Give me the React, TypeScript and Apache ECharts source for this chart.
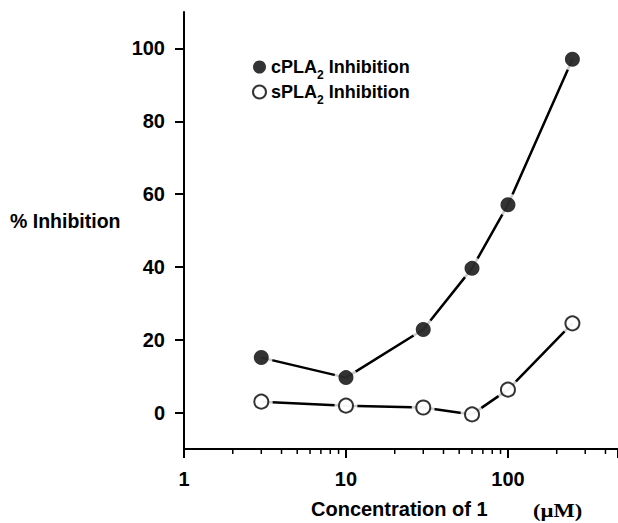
import React, { useEffect, useRef } from "react";
import * as echarts from "echarts";

const concentrations = [3, 10, 30, 60, 100, 250];
const cPLA2Values = [15.1, 9.6, 22.8, 39.6, 57.1, 97.0];
const sPLA2Values = [3.0, 1.9, 1.4, -0.5, 6.3, 24.5];
const xMajorTicks = [1, 10, 100];
const xMinorTicks = [2, 3, 4, 5, 6, 7, 8, 9, 20, 30, 40, 50, 60, 70, 80, 90, 200, 300, 400];
const yTicks = [0, 20, 40, 60, 80, 100];
const seriesNames = ["cPLA2", "sPLA2"];
const X_MIN = 1;
const X_MAX = 478;
const Y_MIN = -10;
const Y_MAX = 110;

const FONT = "'Liberation Sans', Arial, Helvetica, sans-serif";
const SERIF = "'Liberation Serif', 'Times New Roman', serif";

export default function App() {
  const ref = useRef<HTMLDivElement>(null);
  useEffect(() => {
    if (!ref.current) return;
    const chart = echarts.init(ref.current, undefined, { renderer: "svg" });
    const pts = (vals: number[]) => concentrations.map((c, i) => [c, vals[i]]);
    const lineSeries = (data: number[][]) => ({
      type: "line",
      data,
      showSymbol: false,
      symbol: "none",
      lineStyle: { color: "#000", width: 2.5 },
      z: 2,
      silent: true,
    });
    const haloSeries = (data: number[][]) => ({
      type: "scatter",
      data,
      symbol: "circle",
      symbolSize: 23,
      itemStyle: { color: "#fff" },
      z: 3,
      silent: true,
    });
    chart.setOption({
      animation: false,
      backgroundColor: "#fff",
      grid: { left: 184, top: 12, right: 0, bottom: 74, containLabel: false, outerBoundsMode: "none" },
      xAxis: {
        type: "log",
        logBase: 10,
        min: X_MIN,
        max: X_MAX,
        position: "bottom",
        axisLine: { show: true, onZero: false, lineStyle: { color: "#000", width: 2 } },
        axisTick: { show: true, length: 9, lineStyle: { color: "#000", width: 2 } },
        axisLabel: {
          customValues: xMajorTicks,
          color: "#000",
          fontFamily: FONT,
          fontWeight: "bold",
          fontSize: 20,
          margin: 20,
        },
        splitLine: { show: false },
      },
      yAxis: {
        type: "value",
        min: Y_MIN,
        max: Y_MAX,
        axisLine: { show: true, onZero: false, lineStyle: { color: "#000", width: 2 } },
        axisTick: { show: true, length: 9, lineStyle: { color: "#000", width: 2 }, customValues: yTicks },
        axisLabel: {
          customValues: yTicks,
          color: "#000",
          fontFamily: FONT,
          fontWeight: "bold",
          fontSize: 20,
          margin: 19,
        },
        splitLine: { show: false },
      },
      legend: {
        orient: "vertical",
        left: 247,
        top: 53,
        itemWidth: 13,
        itemHeight: 13,
        itemGap: 2,
        selectedMode: false,
        data: [
          { name: seriesNames[0], icon: "circle" },
          { name: seriesNames[1], icon: "circle" },
        ],
        formatter: (name: string) =>
          name === seriesNames[0] ? "{t|cPLA}{s|2}{t| Inhibition}" : "{t|sPLA}{s|2}{t| Inhibition}",
        textStyle: {
          color: "#000",
          fontFamily: FONT,
          fontWeight: "bold",
          fontSize: 18,
          rich: {
            t: { fontFamily: FONT, fontWeight: "bold", fontSize: 18, color: "#000", lineHeight: 20 },
            s: { fontFamily: FONT, fontWeight: "bold", fontSize: 12, color: "#000", verticalAlign: "bottom", lineHeight: 12, padding: [0, 0, -4, 0] },
          },
        },
      },
      graphic: [
        {
          type: "text",
          left: 10,
          top: 211,
          style: { text: "% Inhibition", font: `bold 19.5px ${FONT}`, fill: "#000" },
        },
        {
          type: "text",
          left: 311,
          top: 499,
          style: { text: "Concentration of 1", font: `bold 20px ${FONT}`, fill: "#000" },
        },
        {
          type: "text",
          x: 533,
          y: 502,
          scaleX: 1.25,
          style: { text: "(µM)", font: `bold 18px ${SERIF}`, fill: "#000" },
        },
      ],
      series: [
        {
          type: "custom",
          silent: true,
          clip: false,
          z: 1,
          data: xMinorTicks.map((v) => [v, Y_MIN]),
          encode: { x: 0, y: 1 },
          renderItem: (_params: any, api: any) => {
            const p = api.coord([api.value(0), api.value(1)]);
            return {
              type: "line",
              shape: { x1: p[0], y1: p[1], x2: p[0], y2: p[1] + 5 },
              style: { stroke: "#000", lineWidth: 1.5 },
            };
          },
        },
        lineSeries(pts(cPLA2Values)),
        lineSeries(pts(sPLA2Values)),
        haloSeries(pts(cPLA2Values)),
        haloSeries(pts(sPLA2Values)),
        {
          name: seriesNames[0],
          type: "scatter",
          data: pts(cPLA2Values),
          symbol: "circle",
          symbolSize: 15,
          itemStyle: { color: "#000" },
          z: 4,
        },
        {
          name: seriesNames[1],
          type: "scatter",
          data: pts(sPLA2Values),
          symbol: "circle",
          symbolSize: 14,
          itemStyle: { color: "#fff", borderColor: "#000", borderWidth: 2 },
          z: 4,
        },
      ],
    });
    return () => chart.dispose();
  }, []);
  return (
    <div
      ref={ref}
      style={{ position: "fixed", left: 0, top: 0, width: 618, height: 523, background: "#fff" }}
    />
  );
}
